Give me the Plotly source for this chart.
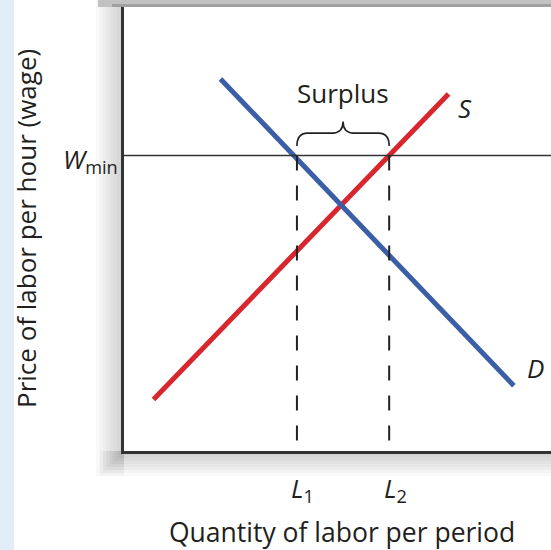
import plotly.graph_objects as go

# ---- data (arbitrary units: quantity 0-10, wage 0-10) ----
demand_x = [2.26, 9.13]
demand_y = [8.38, 1.47]
supply_x = [0.69, 7.60]
supply_y = [1.16, 8.04]
w_min = 6.655
l1 = 4.05
l2 = 6.21

W, H = 551, 550
ML, MR, MT, MB = 124, 0, 7, 99
PW, PH = W - ML - MR, H - MT - MB


def px(x):
    return (x - ML) / PW


def py(y):
    return (H - MB - y) / PH


TXT = "#231f20"
FONT = "Open Sans"

fig = go.Figure()

fig.add_trace(go.Scatter(x=supply_x, y=supply_y, mode="lines",
                         line=dict(color="#d7262d", width=5), hoverinfo="skip"))
fig.add_trace(go.Scatter(x=demand_x, y=demand_y, mode="lines",
                         line=dict(color="#3b5ea6", width=5), hoverinfo="skip"))
# Wmin horizontal line
fig.add_trace(go.Scatter(x=[0, 10], y=[w_min, w_min], mode="lines",
                         line=dict(color="#333333", width=1.5), hoverinfo="skip"))
# dashed verticals
for lx in (l1, l2):
    fig.add_trace(go.Scatter(x=[lx, lx], y=[w_min, 0], mode="lines",
                             line=dict(color="#222222", width=2, dash="15px,15px"),
                             hoverinfo="skip"))

shapes = []
# light blue strip on the left edge
shapes.append(dict(type="rect", xref="paper", yref="paper",
                   x0=px(0), x1=px(14), y0=py(H), y1=py(0),
                   fillcolor="#e1edf7", line=dict(width=0), layer="below"))
# soft shadows around the plot frame
steps = 8
for i in range(steps):
    shapes.append(dict(type="rect", xref="paper", yref="paper",
                       x0=px(96 + i * 3.5), x1=px(124), y0=py(476 - i * 3), y1=py(0),
                       fillcolor="rgba(90,90,90,0.04)", line=dict(width=0), layer="below"))
    shapes.append(dict(type="rect", xref="paper", yref="paper",
                       x0=px(100 + i * 3), x1=1, y0=py(476 - i * 3), y1=py(451),
                       fillcolor="rgba(90,90,90,0.04)", line=dict(width=0), layer="below"))
# top grey band
shapes.append(dict(type="rect", xref="paper", yref="paper",
                   x0=px(98), x1=1, y0=1, y1=py(0),
                   fillcolor="#c2c2c2", line=dict(width=0), layer="below"))
shapes.append(dict(type="rect", xref="paper", yref="paper",
                   x0=px(112), x1=1, y0=1, y1=py(4),
                   fillcolor="#a0a0a0", line=dict(width=0), layer="below"))
# brace above the surplus
yb, yh, yt = 6.87, 7.16, 7.42
xm = (l1 + l2) / 2
r = 0.25
path = (f"M {l1},{yb} Q {l1},{yh} {l1 + r},{yh} L {xm - r},{yh} "
        f"Q {xm},{yh} {xm},{yt} Q {xm},{yh} {xm + r},{yh} "
        f"L {l2 - r},{yh} Q {l2},{yh} {l2},{yb}")
shapes.append(dict(type="path", xref="x", yref="y", path=path,
                   line=dict(color="#222222", width=1.6)))

annotations = [
    dict(x=px(120), y=py(160), xref="paper", yref="paper", xanchor="right", yanchor="middle",
         text="<i>W</i><sub>min</sub>", showarrow=False, font=dict(family=FONT, size=26, color=TXT)),
    dict(x=xm, y=py(93), xref="x", yref="paper", xanchor="center", yanchor="middle",
         text="Surplus", showarrow=False, font=dict(family=FONT, size=26, color=TXT)),
    dict(x=px(465), y=py(108), xref="paper", yref="paper", xanchor="center", yanchor="middle",
         text="<i>S</i>", showarrow=False, font=dict(family=FONT, size=26, color=TXT)),
    dict(x=px(535), y=py(368), xref="paper", yref="paper", xanchor="center", yanchor="middle",
         text="<i>D</i>", showarrow=False, font=dict(family=FONT, size=26, color=TXT)),
    dict(x=l1 + 0.14, y=py(489), xref="x", yref="paper", xanchor="center", yanchor="middle",
         text="<i>L</i><sub>1</sub>", showarrow=False, font=dict(family=FONT, size=26, color=TXT)),
    dict(x=l2 + 0.14, y=py(489), xref="x", yref="paper", xanchor="center", yanchor="middle",
         text="<i>L</i><sub>2</sub>", showarrow=False, font=dict(family=FONT, size=26, color=TXT)),
    dict(x=px(342), y=py(532), xref="paper", yref="paper", xanchor="center", yanchor="middle",
         text="Quantity of labor per period", showarrow=False, borderpad=0,
         font=dict(family=FONT, size=26.5, color=TXT)),
    dict(x=px(26), y=py(229), xref="paper", yref="paper", xanchor="center", yanchor="middle",
         text="Price of labor per hour (wage)", showarrow=False, textangle=-90,
         font=dict(family=FONT, size=26, color=TXT)),
]

fig.update_layout(
    width=W, height=H,
    margin=dict(l=ML, r=MR, t=MT, b=MB),
    paper_bgcolor="white", plot_bgcolor="white",
    showlegend=False,
    shapes=shapes, annotations=annotations,
    xaxis=dict(range=[0, 10], showgrid=False, zeroline=False, showticklabels=False,
               ticks="", showline=True, linecolor="#333333", linewidth=3, fixedrange=True),
    yaxis=dict(range=[0, 10], showgrid=False, zeroline=False, showticklabels=False,
               ticks="", showline=True, linecolor="#333333", linewidth=3, fixedrange=True),
)

fig.write_html("out.html", config={"displayModeBar": False},
               post_script="document.body.style.margin='0px';")
